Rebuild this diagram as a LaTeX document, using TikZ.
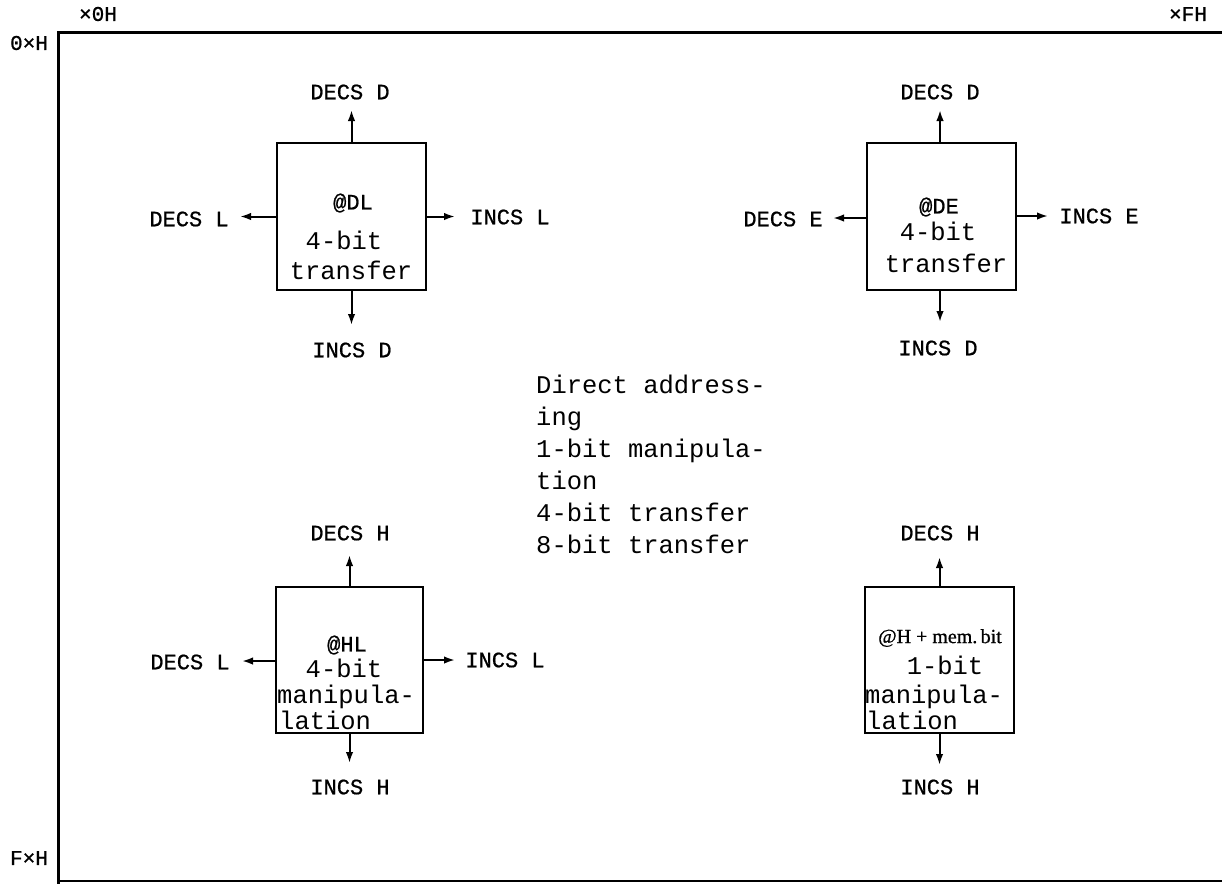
\documentclass[tikz,border=0pt]{standalone}
\usepackage{fontspec}
\usetikzlibrary{arrows.meta}
\newfontfamily\twfont{Liberation Mono}
\newfontfamily\lblfont{Liberation Mono}[FakeBold=0.8]
\newfontfamily\smallserif{Liberation Serif}[FakeBold=0.8]
\begin{document}
\begin{tikzpicture}[x=1pt,y=-1pt,
  box/.style={draw, line width=2.6pt, inner sep=0pt, minimum width=149pt, minimum height=147pt},
  lbl/.style={font=\lblfont\fontsize{22}{22}\selectfont, inner sep=0pt},
  axl/.style={font=\lblfont\fontsize{21}{21}\selectfont, inner sep=0pt},
  tx/.style={font=\twfont\fontsize{25.5}{25.5}\selectfont, inner sep=0pt},
  arr/.style={line width=2pt, -{Latex[length=11pt,width=7.5pt]}},
  frame/.style={line width=3pt}]
\useasboundingbox (0,0) rectangle (1222,884);
% frame
\draw[frame] (1222,32) -- (58,32) -- (58,884);
\draw[line width=2pt] (58,880.5) -- (1222,880.5);
\node[axl] (x0) at (98,14) {×0H};
\node[axl] (xf) at (1188,14) {×FH};
\node[axl] (y0) at (29,43) {0×H};
\node[axl] (yf) at (29,858) {F×H};

% boxes
\node[box] (b1) at (351.5,216.5) {};
\node[box] (b2) at (941.5,216.5) {};
\node[box, minimum width=147pt, minimum height=146pt] (b3) at (349.5,660) {};
\node[box, minimum height=146pt] (b4) at (939.5,660) {};

% box texts
\node[lbl] (t1a) at (353,203) {@DL};
\node[tx] (t1b) at (344,240) {4-bit};
\node[tx] (t1c) at (351,270) {transfer};
\node[lbl] (t2a) at (939,207) {@DE};
\node[tx] (t2b) at (938,231) {4-bit};
\node[tx] (t2c) at (946,263) {transfer};
\node[lbl] (t3a) at (347,645) {@HL};
\node[tx, anchor=base] (t3b) at (344,677) {4-bit};
\node[tx, anchor=base west] (t3c) at (277,703) {manipula-};
\node[tx, anchor=base west] (t3d) at (279,729) {lation};
\node[font=\smallserif\fontsize{20}{20}\selectfont, inner sep=0pt] (t4a) at (940,638) {@H + mem.\,bit};
\node[tx, anchor=base] (t4b) at (945,674) {1-bit};
\node[tx, anchor=base west] (t4c) at (865,703) {manipula-};
\node[tx, anchor=base west] (t4d) at (866,729.5) {lation};

% centre text
\node[tx, anchor=north west, align=left, font=\twfont\fontsize{25.5}{32}\selectfont] (ctr) at (536,375)
  {Direct address-\\ing\\1-bit manipula-\\tion\\4-bit transfer\\8-bit transfer};

% labels
\node[lbl] (l1n) at (350,92) {DECS D};
\node[lbl] (l1s) at (352,350) {INCS D};
\node[lbl] (l1w) at (189,219) {DECS L};
\node[lbl] (l1e) at (510,217) {INCS L};
\node[lbl] (l2n) at (940,92) {DECS D};
\node[lbl] (l2s) at (938,348) {INCS D};
\node[lbl] (l2w) at (783,219) {DECS E};
\node[lbl] (l2e) at (1099,216) {INCS E};
\node[lbl] (l3n) at (350,533) {DECS H};
\node[lbl] (l3s) at (350,787) {INCS H};
\node[lbl] (l3w) at (190,662) {DECS L};
\node[lbl] (l3e) at (505,660) {INCS L};
\node[lbl] (l4n) at (940,533) {DECS H};
\node[lbl] (l4s) at (940,787) {INCS H};

% arrow tips
\coordinate (p1n) at (351.5,110);
\coordinate (p1s) at (351.5,325);
\coordinate (p1w) at (240,216.5);
\coordinate (p1e) at (455,216.5);
\coordinate (p2n) at (940,110);
\coordinate (p2s) at (940,322);
\coordinate (p2w) at (833,218);
\coordinate (p2e) at (1048,216);
\coordinate (p3n) at (349.5,555);
\coordinate (p3s) at (349.5,763);
\coordinate (p3w) at (242,661);
\coordinate (p3e) at (455,660);
\coordinate (p4n) at (939.5,557);
\coordinate (p4s) at (939.5,765);

\draw[arr] (b1.north) -- (p1n);
\draw[arr] (b1.south) -- (p1s);
\draw[arr] (b1.west) -- (p1w);
\draw[arr] (b1.east) -- (p1e);
\draw[arr] (b2.north -| p2n) -- (p2n);
\draw[arr] (b2.south -| p2s) -- (p2s);
\draw[arr] (b2.west |- p2w) -- (p2w);
\draw[arr] (b2.east |- p2e) -- (p2e);
\draw[arr] (b3.north) -- (p3n);
\draw[arr] (b3.south) -- (p3s);
\draw[arr] (b3.west |- p3w) -- (p3w);
\draw[arr] (b3.east) -- (p3e);
\draw[arr] (b4.north) -- (p4n);
\draw[arr] (b4.south) -- (p4s);
\end{tikzpicture}
\end{document}
